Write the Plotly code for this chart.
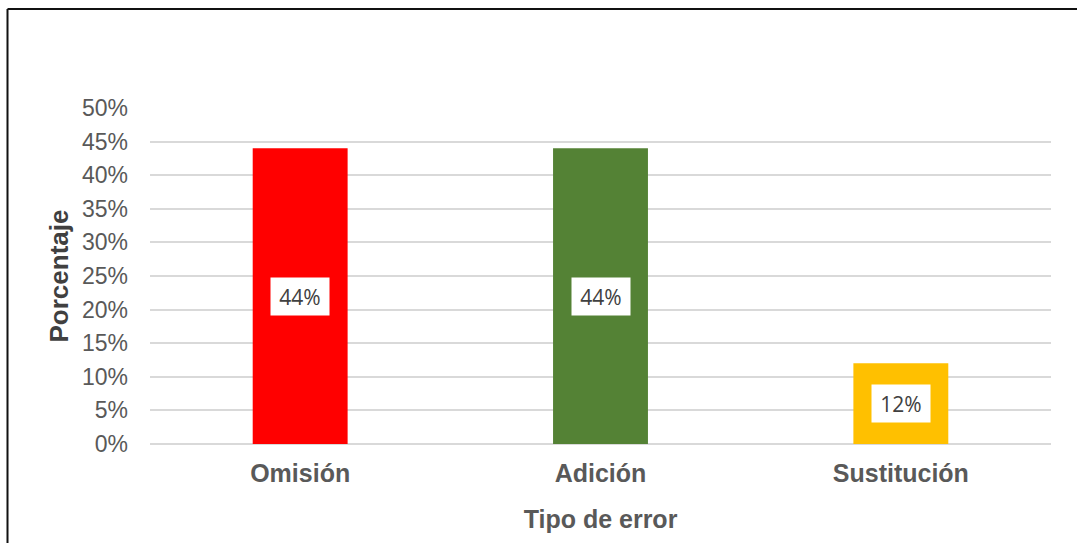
import plotly.graph_objects as go

# Error types and their share (%)
categorias = ["Omisión", "Adición", "Sustitución"]
porcentajes = [44, 44, 12]
colores = ["#FF0000", "#548235", "#FFC000"]
ticks_y = [0, 5, 10, 15, 20, 25, 30, 35, 40, 45, 50]
ticks_y_texto = [f"{v}%" for v in ticks_y]

W, H = 1077, 543
ML, MR, MT, MB = 150, 26, 108, 99
pw = W - ML - MR
ph = H - MT - MB

fig = go.Figure(
    go.Bar(
        x=categorias,
        y=porcentajes,
        marker=dict(color=colores, line=dict(width=0)),
        width=0.316,
        hoverinfo="skip",
    )
)

# Value labels in white boxes centred on each bar
for cat, val in zip(categorias, porcentajes):
    fig.add_annotation(
        x=cat, y=val / 2, text=f"{val}%", showarrow=False,
        font=dict(family="Open Sans, Lato, sans-serif", size=21, color="#404040"),
        bgcolor="white", borderpad=0, width=58, height=37,
    )

# Chart frame (left and top edges)
x_left = (7.5 - ML) / pw
y_top = (ph + MT - 9) / ph
fig.add_shape(type="line", xref="paper", yref="paper",
              x0=x_left, x1=x_left, y0=-0.5, y1=y_top,
              line=dict(color="#111111", width=2))
fig.add_shape(type="line", xref="paper", yref="paper",
              x0=x_left, x1=(W - ML + 5) / pw, y0=y_top, y1=y_top,
              line=dict(color="#111111", width=2))

fig.update_layout(
    width=W, height=H,
    margin=dict(l=ML, r=MR, t=MT, b=MB, autoexpand=False),
    paper_bgcolor="white", plot_bgcolor="white",
    showlegend=False,
    font=dict(family="Liberation Sans, Arial, sans-serif", color="#595959"),
    xaxis=dict(
        showgrid=False, showline=False, zeroline=False, ticks="",
        automargin=False, ticklabelstandoff=12,
        tickfont=dict(size=25, color="#595959", family="Liberation Sans, Arial, sans-serif", weight="bold"),
        title=dict(text="<b>Tipo de error</b>", standoff=24,
                   font=dict(size=25, color="#595959")),
    ),
    yaxis=dict(
        range=[0, 50], tickvals=ticks_y, ticktext=ticks_y_texto,
        showgrid=True, gridcolor="#D9D9D9", gridwidth=2,
        zeroline=True, zerolinecolor="#D9D9D9", zerolinewidth=2,
        showline=False, ticks="", ticklabelstandoff=21, automargin=False,
        tickfont=dict(size=23, color="#595959"),
        title=dict(text="<b>Porcentaje</b>", standoff=5,
                   font=dict(size=26, color="#404040")),
    ),
)

fig.write_html("out.html")
